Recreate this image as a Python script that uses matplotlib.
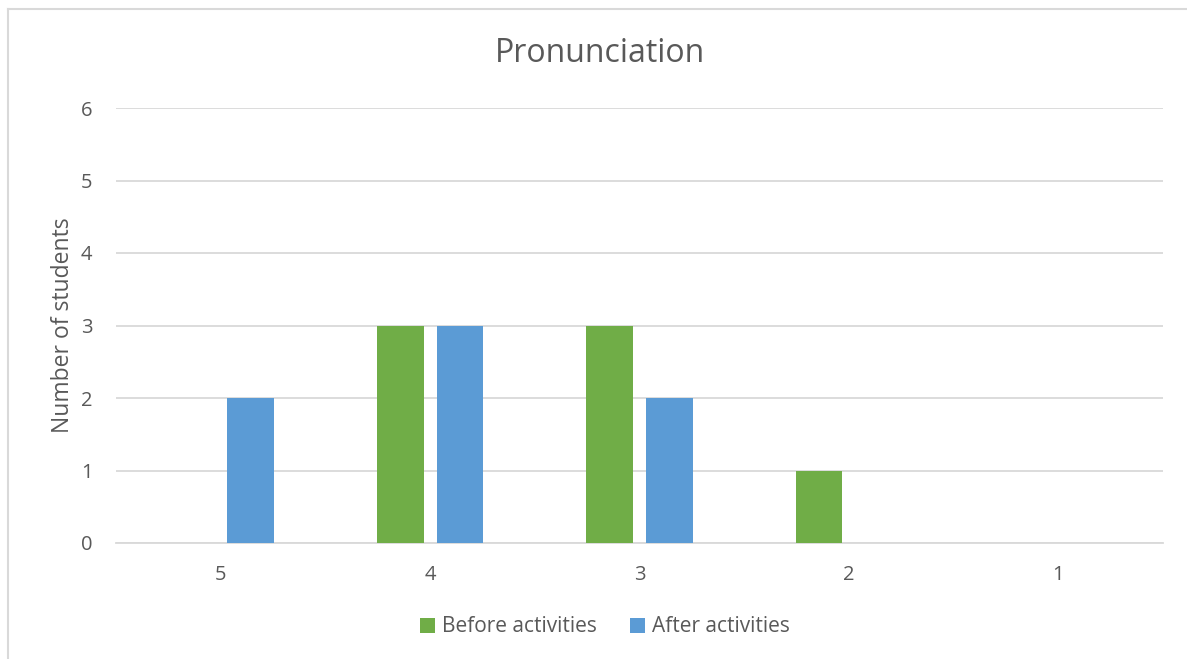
import matplotlib.pyplot as plt
import numpy as np
from matplotlib.lines import Line2D

# datos del grafico
categories = ['5', '4', '3', '2', '1']
before = [0, 3, 3, 1, 0]
after = [2, 3, 2, 0, 0]
series_names = ['Before activities', 'After activities']

green = '#70AD47'
blue = '#5B9BD5'
text_color = '#595959'
grid_color = '#D9D9D9'

plt.rcParams['font.family'] = ['Open Sans', 'DejaVu Sans']

fig = plt.figure(figsize=(11.87, 6.59), dpi=100)
ax = fig.add_axes([116 / 1187, 1 - 543 / 659, (1163 - 116) / 1187, (543 - 108) / 659])

x = np.arange(len(categories))
width = 0.224
offset = 0.143
ax.bar(x - offset, before, width, color=green, label=series_names[0], zorder=3)
ax.bar(x + offset, after, width, color=blue, label=series_names[1], zorder=3)

ax.set_xlim(-0.5, len(categories) - 0.5)
ax.set_ylim(0, 6)
ax.set_yticks(range(0, 7))
ax.set_xticks(x)
ax.set_xticklabels(categories)
ax.yaxis.grid(True, color=grid_color, linewidth=1.3, zorder=0)
ax.tick_params(axis='both', length=0, labelsize=14.5, colors=text_color)
ax.tick_params(axis='x', pad=16)
ax.tick_params(axis='y', pad=17)

for s in ['top', 'right', 'left']:
    ax.spines[s].set_visible(False)
ax.spines['bottom'].set_color(grid_color)
ax.spines['bottom'].set_linewidth(1.3)

ax.set_ylabel('Number of students', fontsize=16.5, color=text_color, labelpad=4)
fig.text(600 / 1187, 1 - 53 / 659, 'Pronunciation', ha='center', va='center',
         fontsize=23, color=text_color)

leg = fig.legend(loc='center', bbox_to_anchor=(605 / 1187, 1 - 627 / 659), ncol=2,
                 frameon=False, fontsize=15, handlelength=0.7, handleheight=0.7,
                 handletextpad=0.35, columnspacing=1.6)
for t in leg.get_texts():
    t.set_color(text_color)

# borde del grafico
fig.add_artist(Line2D([8 / 1187, 8 / 1187], [0, 1 - 9 / 659], color=grid_color, linewidth=1.5))
fig.add_artist(Line2D([8 / 1187, 1], [1 - 9 / 659, 1 - 9 / 659], color=grid_color, linewidth=1.5))

fig.savefig('out.png', dpi=100)
